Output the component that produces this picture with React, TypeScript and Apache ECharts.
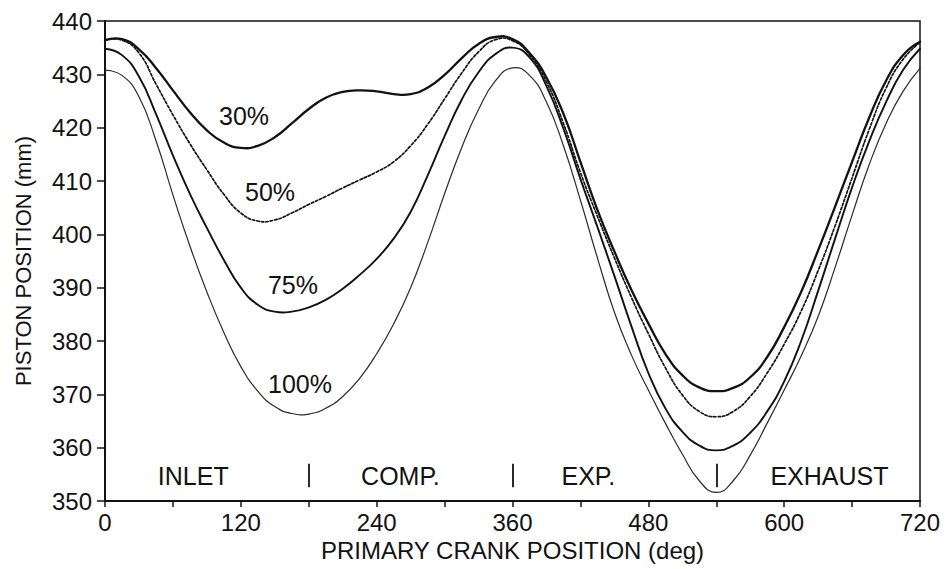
import React, { useEffect, useRef } from "react";
import * as echarts from "echarts";

// Primary crank position (deg), sampled every 15 degrees over a full 720-degree cycle
const crankDeg = [
  0, 15, 30, 45, 60, 75, 90, 105, 120, 135, 150, 165, 180, 195, 210, 225, 240,
  255, 270, 285, 300, 315, 330, 345, 360, 375, 390, 405, 420, 435, 450, 465, 480,
  495, 510, 525, 540, 555, 570, 585, 600, 615, 630, 645, 660, 675, 690, 705, 720,
];

// Piston position (mm) at each load level
const load30 = [
  436.4, 436.6, 434.7, 431.2, 427.0, 422.9, 419.5, 417.2, 416.2, 416.6, 418.2,
  420.8, 423.5, 425.6, 426.7, 427.0, 426.8, 426.3, 426.3, 427.5, 429.9, 433.0,
  435.7, 437.0, 436.6, 434.0, 429.4, 422.6, 413.6, 404.6, 396.8, 389.6, 383.3,
  377.6, 373.6, 371.3, 370.6, 371.2, 373.2, 377.0, 382.6, 389.2, 397.0, 405.2,
  413.6, 421.8, 428.8, 433.6, 436.1,
];
const load50 = [
  436.4, 436.4, 434.0, 428.2, 422.4, 417.0, 412.1, 407.5, 404.0, 402.5, 402.7,
  404.0, 405.6, 407.1, 408.7, 410.2, 411.7, 413.6, 416.6, 420.6, 425.4, 430.2,
  434.2, 436.5, 436.3, 433.7, 428.6, 420.8, 411.6, 403.4, 395.6, 388.2, 381.4,
  375.0, 369.9, 366.8, 365.8, 366.8, 369.6, 374.0, 379.4, 385.6, 393.2, 401.6,
  410.6, 419.6, 427.4, 432.8, 436.0,
];
const load75 = [
  434.8, 433.6, 429.6, 422.6, 414.8, 407.6, 401.2, 395.2, 390.0, 386.8, 385.5,
  385.5, 386.3, 387.7, 389.8, 392.4, 395.4, 399.2, 404.2, 411.0, 418.4, 425.2,
  430.4, 433.8, 435.0, 433.2, 427.8, 419.8, 410.4, 401.4, 392.2, 382.8, 374.0,
  367.4, 363.0, 360.4, 359.5, 360.4, 362.8, 366.8, 372.4, 380.0, 389.4, 399.2,
  408.8, 417.4, 424.8, 430.8, 434.8,
];
const load100 = [
  430.8, 429.8, 425.8, 417.6, 407.4, 397.8, 389.2, 381.6, 375.2, 370.6, 367.7,
  366.4, 366.3, 367.4, 369.6, 373.0, 377.6, 383.2, 390.0, 398.4, 407.6, 416.2,
  423.4, 428.8, 431.2, 429.8, 424.8, 416.6, 406.4, 395.6, 385.4, 377.4, 370.8,
  364.6, 358.8, 353.8, 351.6, 353.8, 358.6, 364.6, 370.8, 377.2, 384.6, 393.8,
  403.6, 413.0, 420.8, 426.8, 431.1,
];

// Stroke boundaries and stroke names
const strokeBounds = [180, 360, 540];
const strokeNames = ["INLET", "COMP.", "EXP.", "EXHAUST"];
const loadNames = ["30%", "50%", "75%", "100%"];

const INK = "#121212";
const FONT = "'Liberation Sans', Arial, Helvetica, sans-serif";

function pairs(ys: number[]) {
  return crankDeg.map((x, i) => [x, ys[i]]);
}

export default function App() {
  const ref = useRef<HTMLDivElement>(null);

  useEffect(() => {
    if (!ref.current) return;
    const chart = echarts.init(ref.current, null, { renderer: "svg" });

    const strokeLabelAnchors = [78, 261, 427, 640];
    const loadLabelAnchors = [
      [122.8, 422.2],
      [145.8, 407.9],
      [166, 390.5],
      [172.3, 372.0],
    ];

    // Each load curve is drawn as one spline through its points, placed
    // with the grid's own coordinate mapping (api.coord).
    const curve = (
      name: string,
      ys: number[],
      width: number,
      dash: number[] | null,
      color = INK
    ) => ({
      name,
      type: "custom",
      coordinateSystem: "cartesian2d",
      data: pairs(ys),
      encode: { x: 0, y: 1 },
      silent: true,
      z: 3,
      renderItem: (params: any, api: any) => {
        if (params.dataIndex !== 0) return null;
        const pts = crankDeg.map((x, i) => api.coord([x, ys[i]]));
        return {
          type: "polyline",
          shape: { points: pts, smooth: 0.5 },
          style: {
            stroke: color,
            lineWidth: width,
            fill: null,
            lineDash: dash || undefined,
            lineCap: "round",
            lineJoin: "round",
          },
        };
      },
    });

    const textLabel = {
      show: true,
      position: "inside",
      formatter: "{b}",
      color: INK,
      fontSize: 25,
      fontFamily: FONT,
      textBorderWidth: 0,
    };

    chart.setOption({
      animation: false,
      backgroundColor: "#ffffff",
      grid: {
        left: 105,
        right: 27,
        top: 21,
        bottom: 68,
        show: true,
        borderColor: INK,
        borderWidth: 1.5,
        backgroundColor: "transparent",
      },
      xAxis: {
        type: "value",
        min: 0,
        max: 720,
        interval: 60,
        name: "PRIMARY CRANK POSITION (deg)",
        nameLocation: "middle",
        nameGap: 36,
        nameTextStyle: { color: INK, fontSize: 24, fontFamily: FONT },
        axisLine: { show: true, lineStyle: { color: INK, width: 2 } },
        axisTick: {
          show: true,
          inside: false,
          length: 6,
          lineStyle: { color: INK, width: 1.5 },
        },
        axisLabel: {
          color: INK,
          fontSize: 24,
          fontFamily: FONT,
          margin: 9,
          formatter: (v: number) => (v % 120 === 0 ? String(v) : ""),
        },
        splitLine: { show: false },
      },
      yAxis: {
        type: "value",
        min: 350,
        max: 440,
        interval: 10,
        name: "PISTON POSITION (mm)",
        nameLocation: "middle",
        nameGap: 71,
        nameRotate: 90,
        nameTextStyle: { color: INK, fontSize: 22, fontFamily: FONT },
        axisLine: { show: true, lineStyle: { color: INK, width: 2 } },
        axisTick: {
          show: true,
          inside: false,
          length: 8,
          lineStyle: { color: INK, width: 1.5 },
        },
        axisLabel: {
          color: INK,
          fontSize: 24,
          fontFamily: FONT,
          margin: 13,
        },
        splitLine: { show: false },
      },
      series: [
        curve(loadNames[0], load30, 2.3, null),
        curve(loadNames[1], load50, 1.7, [2.5, 2]),
        curve(loadNames[2], load75, 1.9, null),
        curve(loadNames[3], load100, 1.2, null, "#2a2a2a"),
        {
          name: "load labels",
          type: "scatter",
          symbolSize: 0,
          silent: true,
          itemStyle: { opacity: 1, color: "transparent" },
          data: loadLabelAnchors.map((p, i) => ({
            value: p,
            name: loadNames[i],
          })),
          label: textLabel,
          z: 5,
        },
        {
          name: "strokes",
          type: "scatter",
          symbolSize: 0,
          silent: true,
          itemStyle: { opacity: 1, color: "transparent" },
          data: strokeNames.map((n, i) => ({
            value: [strokeLabelAnchors[i], 354.7],
            name: n,
          })),
          label: textLabel,
          markLine: {
            silent: true,
            symbol: ["none", "none"],
            label: { show: false },
            lineStyle: { color: INK, width: 1.8, type: "solid" },
            data: strokeBounds.map((x) => [
              { coord: [x, 357] },
              { coord: [x, 352.6] },
            ]),
          },
          z: 5,
        },
      ],
    });

    return () => chart.dispose();
  }, []);

  return (
    <div
      ref={ref}
      style={{ position: "absolute", left: 0, top: 0, width: 947, height: 569 }}
    />
  );
}
